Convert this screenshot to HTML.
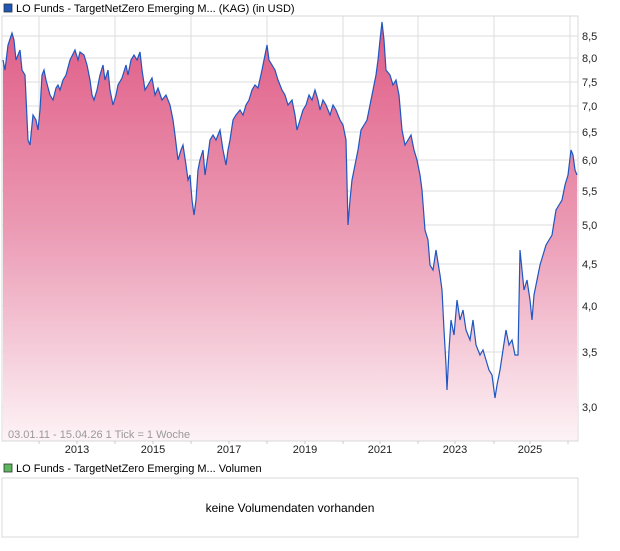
<!DOCTYPE html>
<html><head><meta charset="utf-8"><style>
body{margin:0;background:#fff;font-family:"Liberation Sans",sans-serif;}
</style></head><body>
<svg width="620" height="546" xmlns="http://www.w3.org/2000/svg" font-family="Liberation Sans, sans-serif">
<defs><linearGradient id="g" x1="0" y1="0" x2="0" y2="1">
<stop offset="0" stop-color="#e05c86"/><stop offset="0.5" stop-color="#eb9bb5"/><stop offset="1" stop-color="#fdf3f6"/></linearGradient></defs>
<rect x="4" y="4" width="8" height="8" fill="#1f56b8" stroke="#333" stroke-width="0.8"/>
<text x="16" y="12" font-size="11" fill="#000">LO Funds - TargetNetZero Emerging M... (KAG) (in USD)</text>
<g stroke="#dddddd" stroke-width="1">
<line x1="2" y1="36" x2="578" y2="36"/><line x1="2" y1="58" x2="578" y2="58"/><line x1="2" y1="82" x2="578" y2="82"/><line x1="2" y1="106" x2="578" y2="106"/><line x1="2" y1="132" x2="578" y2="132"/><line x1="2" y1="160" x2="578" y2="160"/><line x1="2" y1="191" x2="578" y2="191"/><line x1="2" y1="225" x2="578" y2="225"/><line x1="2" y1="264" x2="578" y2="264"/><line x1="2" y1="306" x2="578" y2="306"/><line x1="2" y1="352" x2="578" y2="352"/><line x1="2" y1="407" x2="578" y2="407"/>
<line x1="39" y1="16" x2="39" y2="441"/><line x1="115" y1="16" x2="115" y2="441"/><line x1="191" y1="16" x2="191" y2="441"/><line x1="267" y1="16" x2="267" y2="441"/><line x1="343" y1="16" x2="343" y2="441"/><line x1="418" y1="16" x2="418" y2="441"/><line x1="494" y1="16" x2="494" y2="441"/><line x1="570" y1="16" x2="570" y2="441"/>
</g>
<polygon fill="url(#g)" points="3,441 3,60 5,70 8,45 12,33 14,40 16,60 20,50 22,70 25,75 28,140 30,145 33,115 36,120 38,130 40,110 42,75 44,70 46,80 50,95 53,100 56,88 58,85 60,90 63,80 66,75 70,60 75,50 78,60 80,52 84,55 87,65 90,80 92,95 94,100 97,90 100,75 103,65 105,80 108,70 110,90 113,105 116,95 118,85 122,78 126,65 128,75 131,60 134,55 137,60 140,52 142,70 145,90 148,85 152,78 155,95 158,88 162,100 166,95 170,105 173,120 175,135 178,160 181,150 183,145 186,165 188,180 190,175 192,200 194,215 196,200 198,170 200,160 203,150 205,175 208,155 210,140 213,135 216,140 220,130 223,150 226,165 228,150 230,140 233,120 236,115 240,110 243,115 246,105 249,100 252,90 255,85 258,88 262,70 265,55 267,45 269,60 272,65 275,70 278,80 282,90 285,95 288,105 292,100 295,115 297,130 300,120 303,110 306,105 309,95 312,100 315,90 318,100 320,110 323,100 326,105 330,115 333,105 336,110 340,120 343,125 346,140 348,225 350,200 352,180 355,165 358,150 361,130 364,125 367,120 370,105 373,90 376,75 378,60 380,40 382,22 384,40 386,70 390,75 393,85 396,80 399,95 402,130 405,145 408,140 411,135 414,150 417,160 420,175 422,190 425,230 428,240 430,265 433,270 436,250 440,275 442,290 444,330 446,365 447,390 449,350 451,320 454,335 457,300 460,320 463,310 466,330 470,340 473,320 476,345 480,355 483,350 486,360 489,370 492,375 495,398 497,385 500,370 503,350 506,330 509,345 512,340 515,355 518,355 520,250 522,270 524,290 527,280 530,300 532,320 534,295 537,280 540,265 543,255 546,245 549,240 552,235 556,210 559,205 562,200 565,185 568,175 571,150 573,155 575,170 577,175 577,441"/>
<polyline fill="none" stroke="#1f56c0" stroke-width="1.2" points="3,60 5,70 8,45 12,33 14,40 16,60 20,50 22,70 25,75 28,140 30,145 33,115 36,120 38,130 40,110 42,75 44,70 46,80 50,95 53,100 56,88 58,85 60,90 63,80 66,75 70,60 75,50 78,60 80,52 84,55 87,65 90,80 92,95 94,100 97,90 100,75 103,65 105,80 108,70 110,90 113,105 116,95 118,85 122,78 126,65 128,75 131,60 134,55 137,60 140,52 142,70 145,90 148,85 152,78 155,95 158,88 162,100 166,95 170,105 173,120 175,135 178,160 181,150 183,145 186,165 188,180 190,175 192,200 194,215 196,200 198,170 200,160 203,150 205,175 208,155 210,140 213,135 216,140 220,130 223,150 226,165 228,150 230,140 233,120 236,115 240,110 243,115 246,105 249,100 252,90 255,85 258,88 262,70 265,55 267,45 269,60 272,65 275,70 278,80 282,90 285,95 288,105 292,100 295,115 297,130 300,120 303,110 306,105 309,95 312,100 315,90 318,100 320,110 323,100 326,105 330,115 333,105 336,110 340,120 343,125 346,140 348,225 350,200 352,180 355,165 358,150 361,130 364,125 367,120 370,105 373,90 376,75 378,60 380,40 382,22 384,40 386,70 390,75 393,85 396,80 399,95 402,130 405,145 408,140 411,135 414,150 417,160 420,175 422,190 425,230 428,240 430,265 433,270 436,250 440,275 442,290 444,330 446,365 447,390 449,350 451,320 454,335 457,300 460,320 463,310 466,330 470,340 473,320 476,345 480,355 483,350 486,360 489,370 492,375 495,398 497,385 500,370 503,350 506,330 509,345 512,340 515,355 518,355 520,250 522,270 524,290 527,280 530,300 532,320 534,295 537,280 540,265 543,255 546,245 549,240 552,235 556,210 559,205 562,200 565,185 568,175 571,150 573,155 575,170 577,175"/>
<rect x="2" y="16" width="576" height="425" fill="none" stroke="#d8d8d8"/>
<g stroke="#ccc"><line x1="39" y1="441" x2="39" y2="444"/><line x1="77" y1="441" x2="77" y2="444"/><line x1="115" y1="441" x2="115" y2="444"/><line x1="153" y1="441" x2="153" y2="444"/><line x1="191" y1="441" x2="191" y2="444"/><line x1="229" y1="441" x2="229" y2="444"/><line x1="267" y1="441" x2="267" y2="444"/><line x1="305" y1="441" x2="305" y2="444"/><line x1="343" y1="441" x2="343" y2="444"/><line x1="380" y1="441" x2="380" y2="444"/><line x1="418" y1="441" x2="418" y2="444"/><line x1="455" y1="441" x2="455" y2="444"/><line x1="494" y1="441" x2="494" y2="444"/><line x1="530" y1="441" x2="530" y2="444"/><line x1="568" y1="441" x2="568" y2="444"/></g>
<text x="8" y="438" font-size="11" fill="#999">03.01.11 - 15.04.26   1 Tick = 1 Woche</text>
<g font-size="11" fill="#222" text-anchor="middle">
<text x="77" y="453">2013</text><text x="153" y="453">2015</text><text x="229" y="453">2017</text><text x="305" y="453">2019</text><text x="380" y="453">2021</text><text x="455" y="453">2023</text><text x="530" y="453">2025</text></g>
<g font-size="11" fill="#222">
<text x="582" y="40">8,5</text><text x="582" y="62">8,0</text><text x="582" y="86">7,5</text><text x="582" y="110">7,0</text><text x="582" y="136">6,5</text><text x="582" y="164">6,0</text><text x="582" y="195">5,5</text><text x="582" y="229">5,0</text><text x="582" y="268">4,5</text><text x="582" y="310">4,0</text><text x="582" y="356">3,5</text><text x="582" y="411">3,0</text></g>
<rect x="4" y="464" width="8" height="8" fill="#5cb85c" stroke="#333" stroke-width="0.8"/>
<text x="16" y="472" font-size="11" fill="#000">LO Funds - TargetNetZero Emerging M... Volumen</text>
<rect x="2" y="478" width="576" height="59" fill="none" stroke="#d8d8d8"/>
<text x="290" y="512" font-size="12" fill="#000" text-anchor="middle">keine Volumendaten vorhanden</text>
</svg>
</body></html>
